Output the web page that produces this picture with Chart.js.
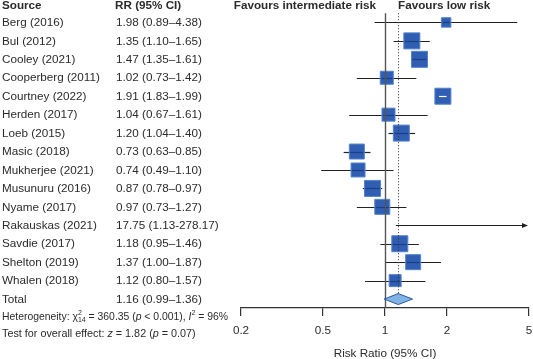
<!DOCTYPE html>
<html>
<head>
<meta charset="utf-8">
<script src="https://cdn.jsdelivr.net/npm/chart.js@4/dist/chart.umd.min.js"></script>
<style>
  html, body { margin: 0; padding: 0; background: #fff; }
  #wrap { width: 533px; height: 359px; }
</style>
</head>
<body>
<div id="wrap"><canvas id="forest"></canvas></div>
<script>
// Data
const studies = ['Berg (2016)', 'Bul (2012)', 'Cooley (2021)', 'Cooperberg (2011)', 'Courtney (2022)',
    'Herden (2017)', 'Loeb (2015)', 'Masic (2018)', 'Mukherjee (2021)', 'Musunuru (2016)',
    'Nyame (2017)', 'Rakauskas (2021)', 'Savdie (2017)', 'Shelton (2019)', 'Whalen (2018)'];
const rr = [1.98, 1.35, 1.47, 1.02, 1.91, 1.04, 1.20, 0.73, 0.74, 0.87, 0.97, 17.75, 1.18, 1.37, 1.12];
const ciLow = [0.89, 1.10, 1.35, 0.73, 1.83, 0.67, 1.04, 0.63, 0.49, 0.78, 0.73, 1.13, 0.95, 1.00, 0.80];
const ciHigh = [4.38, 1.65, 1.61, 1.42, 1.99, 1.61, 1.40, 0.85, 1.10, 0.97, 1.27, 278.17, 1.46, 1.87, 1.57];
const weights = [2.8, 8.0, 8.0, 5.3, 8.0, 5.3, 8.0, 7.0, 6.1, 8.0, 7.0, 0.3, 8.0, 7.0, 4.5];
const rrLabels = ['1.98 (0.89–4.38)', '1.35 (1.10–1.65)', '1.47 (1.35–1.61)', '1.02 (0.73–1.42)',
    '1.91 (1.83–1.99)', '1.04 (0.67–1.61)', '1.20 (1.04–1.40)', '0.73 (0.63–0.85)', '0.74 (0.49–1.10)',
    '0.87 (0.78–0.97)', '0.97 (0.73–1.27)', '17.75 (1.13-278.17)', '1.18 (0.95–1.46)',
    '1.37 (1.00–1.87)', '1.12 (0.80–1.57)'];
const totalRR = 1.16;
const totalLow = 0.99;
const totalHigh = 1.36;
const xTicks = [0.2, 0.5, 1, 2, 5];

const FONT = '"Liberation Sans", Arial, sans-serif';
const TEXT = '#2b2b2b';
const totalRow = studies.length;

const squareRadius = (w) => 4 * Math.sqrt(w);

const drawRuns = (ctx, x, y, size, runs) => {
    let cx = x;
    runs.forEach((run) => {
        if (run.stack) {
            ctx.font = `7px ${FONT}`;
            const w = Math.max(...run.stack.map((s) => ctx.measureText(s.t).width));
            run.stack.forEach((s) => ctx.fillText(s.t, cx, y + s.dy));
            cx += w;
            return;
        }
        ctx.font = `${run.italic ? 'italic ' : ''}${size}px ${FONT}`;
        ctx.fillText(run.t, cx, y);
        cx += ctx.measureText(run.t).width;
    });
};

const noPadding = (scale) => {
    scale.paddingLeft = 0;
    scale.paddingRight = 0;
    scale.paddingTop = 0;
    scale.paddingBottom = 0;
};

const forestPlugin = {
    id: 'forest',
    beforeDatasetsDraw(chart) {
        const { ctx, chartArea, scales: { x, y } } = chart;
        ctx.save();
        ctx.strokeStyle = '#222';
        ctx.fillStyle = '#222';
        ctx.lineWidth = 1.2;
        studies.forEach((s, i) => {
            const py = Math.round(y.getPixelForValue(i)) + 0.5;
            const x0 = x.getPixelForValue(Math.max(ciLow[i], x.min));
            const over = ciHigh[i] > x.max;
            const x1 = over ? chartArea.right - 2 : x.getPixelForValue(ciHigh[i]);
            ctx.beginPath();
            ctx.moveTo(x0, py);
            ctx.lineTo(x1, py);
            ctx.stroke();
            if (over) {
                ctx.beginPath();
                ctx.moveTo(x1 + 1, py);
                ctx.lineTo(x1 - 5, py - 2.5);
                ctx.lineTo(x1 - 5, py + 2.5);
                ctx.closePath();
                ctx.fill();
            }
        });
        ctx.restore();
    },
    afterDatasetsDraw(chart) {
        const { ctx, scales: { x, y } } = chart;
        ctx.save();
        // CI segment inside each box
        studies.forEach((s, i) => {
            if (rr[i] > x.max) return;
            const half = Math.SQRT1_2 * squareRadius(weights[i]);
            const cx = x.getPixelForValue(rr[i]);
            const py = Math.round(y.getPixelForValue(i)) + 0.5;
            const lo = x.getPixelForValue(ciLow[i]);
            const hi = x.getPixelForValue(ciHigh[i]);
            const inside = lo > cx - half && hi < cx + half;
            ctx.strokeStyle = inside ? '#ffffff' : '#1e3f7d';
            ctx.lineWidth = 1.2;
            ctx.beginPath();
            ctx.moveTo(Math.max(lo, cx - half + 1), py);
            ctx.lineTo(Math.min(hi, cx + half - 1), py);
            ctx.stroke();
        });

        const top = y.getPixelForValue(-0.5);
        const bottom = chart.chartArea.bottom;
        // line of no effect
        const x1 = Math.round(x.getPixelForValue(1)) + 0.5;
        ctx.strokeStyle = '#555';
        ctx.lineWidth = 1.4;
        ctx.beginPath();
        ctx.moveTo(x1, top);
        ctx.lineTo(x1, bottom);
        ctx.stroke();
        // pooled estimate
        const xt = Math.round(x.getPixelForValue(totalRR)) + 0.5;
        ctx.strokeStyle = '#333';
        ctx.lineWidth = 1;
        ctx.setLineDash([1, 2]);
        ctx.beginPath();
        ctx.moveTo(xt, top);
        ctx.lineTo(xt, y.getPixelForValue(totalRow) - 5);
        ctx.stroke();
        ctx.setLineDash([]);

        // diamond
        const dy = y.getPixelForValue(totalRow);
        ctx.beginPath();
        ctx.moveTo(x.getPixelForValue(totalLow), dy);
        ctx.lineTo(x.getPixelForValue(totalRR), dy - 5.5);
        ctx.lineTo(x.getPixelForValue(totalHigh), dy);
        ctx.lineTo(x.getPixelForValue(totalRR), dy + 5.5);
        ctx.closePath();
        ctx.fillStyle = '#80b3e4';
        ctx.fill();
        ctx.strokeStyle = '#2c5aa0';
        ctx.lineWidth = 1;
        ctx.stroke();
        ctx.restore();
    },
    afterDraw(chart) {
        const { ctx, scales: { x, y } } = chart;
        const colA = 2;
        const colB = 116;
        ctx.save();
        ctx.fillStyle = TEXT;
        ctx.textBaseline = 'middle';
        const headY = 6;
        ctx.font = `bold 11.7px ${FONT}`;
        ctx.fillText('Source', colA, headY);
        ctx.fillText('RR (95% CI)', colB - 1, headY);
        const nullX = x.getPixelForValue(1);
        ctx.textAlign = 'right';
        ctx.fillText('Favours intermediate risk', nullX - 9, headY);
        ctx.textAlign = 'left';
        ctx.fillText('Favours low risk', nullX + 13, headY);

        ctx.font = `11.7px ${FONT}`;
        studies.forEach((s, i) => {
            const py = y.getPixelForValue(i) + 0.5;
            ctx.fillText(s, colA, py);
            ctx.fillText(rrLabels[i], colB, py);
        });
        const ty = y.getPixelForValue(totalRow) + 0.5;
        ctx.fillText('Total', colA, ty);
        ctx.fillText(`${totalRR.toFixed(2)} (${totalLow.toFixed(2)}–${totalHigh.toFixed(2)})`, colB, ty);

        drawRuns(ctx, colA, 317, 10.4, [
            { t: 'Heterogeneity: χ' },
            { stack: [{ t: '2', dy: -4 }, { t: '14', dy: 3 }] },
            { t: ' = 360.35 (' },
            { t: 'p', italic: true },
            { t: ' < 0.001), ' },
            { t: 'I', italic: true },
            { stack: [{ t: '2', dy: -4 }] },
            { t: ' = 96%' },
        ]);
        drawRuns(ctx, colA, 334, 10.8, [
            { t: 'Test for overall effect: ' },
            { t: 'z', italic: true },
            { t: ' = 1.82 (' },
            { t: 'p', italic: true },
            { t: ' = 0.07)' },
        ]);
        ctx.restore();
    },
};

const ctx = document.getElementById('forest').getContext('2d');

// eslint-disable-next-line no-new
new Chart(ctx, {
    type: 'scatter',
    data: {
        datasets: [{
            data: studies.map((s, i) => ({ x: rr[i], y: i })),
            pointStyle: 'rect',
            pointRadius: studies.map((s, i) => (rr[i] > 5 ? 0 : squareRadius(weights[i]))),
            backgroundColor: '#2f5eb2',
            borderColor: '#5583cc',
            borderWidth: 1,
        }],
    },
    options: {
        responsive: true,
        maintainAspectRatio: false,
        animation: false,
        events: [],
        layout: { autoPadding: false, padding: { left: 241, right: 4, top: 4, bottom: -2 } },
        plugins: { legend: { display: false }, tooltip: { enabled: false } },
        scales: {
            x: {
                type: 'logarithmic',
                min: 0.2,
                max: 5,
                afterBuildTicks: (scale) => {
                    scale.ticks = xTicks.map((value) => ({ value }));
                },
                afterFit: noPadding,
                ticks: {
                    callback: (value) => String(value),
                    color: TEXT,
                    font: { family: FONT, size: 11.7 },
                    padding: 8,
                    maxRotation: 0,
                    autoSkip: false,
                },
                grid: { drawOnChartArea: false, tickLength: 8, color: '#333', lineWidth: 1.2 },
                border: { color: '#333', width: 1.2 },
                title: {
                    display: true,
                    text: 'Risk Ratio (95% CI)',
                    color: TEXT,
                    font: { family: FONT, size: 11.7 },
                    padding: { top: 1, bottom: 0 },
                },
            },
            y: {
                display: false,
                reverse: true,
                min: -1,
                max: 15.48,
                afterFit: noPadding,
            },
        },
    },
    plugins: [forestPlugin],
});
</script>
</body>
</html>
